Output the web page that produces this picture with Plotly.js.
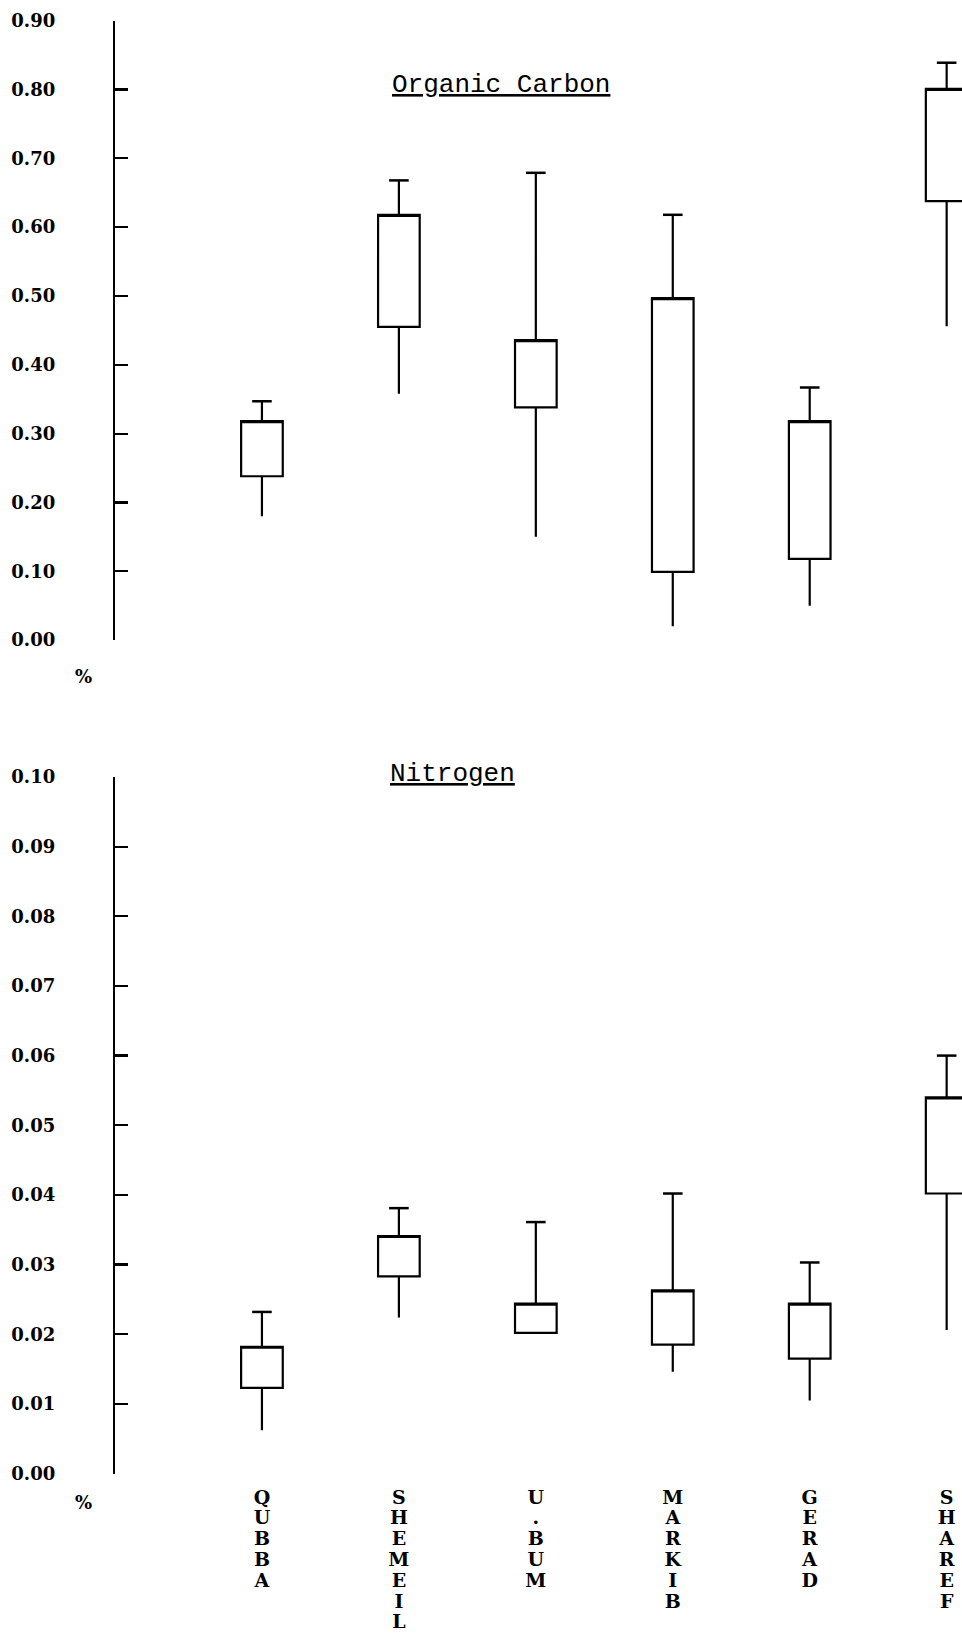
<!DOCTYPE html>
<html>
<head>
<meta charset="utf-8">
<script src="https://cdn.plot.ly/plotly-3.0.1.min.js"></script>
<style>html,body{margin:0;padding:0;background:#fff;}#chart{width:962px;height:1634px;}</style>
</head>
<body>
<div id="chart"></div>
<script>
// Sites (categories)
var sites = ['QUBBA', 'SHEMEIL', 'U.BUM', 'MARKIB', 'GERAD', 'SHAREF'];

// Organic Carbon (%)
var ocMin = [0.180, 0.358, 0.150, 0.020, 0.050, 0.456];
var ocQ1  = [0.238, 0.455, 0.338, 0.099, 0.118, 0.638];
var ocQ3  = [0.318, 0.618, 0.436, 0.497, 0.318, 0.801];
var ocMax = [0.347, 0.668, 0.679, 0.618, 0.367, 0.839];

// Nitrogen (%)
var nMin = [0.0062, 0.0224, 0.0202, 0.0146, 0.0105, 0.0206];
var nQ1  = [0.0123, 0.0283, 0.0202, 0.0185, 0.0165, 0.0402];
var nQ3  = [0.0182, 0.0341, 0.0244, 0.0263, 0.0244, 0.0540];
var nMax = [0.0232, 0.0381, 0.0361, 0.0402, 0.0303, 0.0600];

var ocTicks = [0, 0.1, 0.2, 0.3, 0.4, 0.5, 0.6, 0.7, 0.8, 0.9];
var nTicks = [0, 0.01, 0.02, 0.03, 0.04, 0.05, 0.06, 0.07, 0.08, 0.09, 0.10];

// vertical stacked letters for the site labels
var siteLabels = sites.map(function (s) {
  return s.split('').map(function (c) {
    return '<span style="font-size:19px">' + c + '</span>';
  }).join('<br>');
});

function boxTrace(q1, q3, mn, mx, xa, ya) {
  return {
    type: 'box', x: sites, q1: q1, q3: q3, median: q3,
    lowerfence: mn, upperfence: mx,
    xaxis: xa, yaxis: ya,
    width: 0.304, whiskerwidth: 0,
    fillcolor: '#ffffff',
    line: {color: '#000000', width: 2.2},
    boxpoints: false, hoverinfo: 'skip', showlegend: false
  };
}
function capTrace(mx, xa, ya) {
  return {
    type: 'scatter', mode: 'markers', x: sites, y: mx,
    xaxis: xa, yaxis: ya,
    marker: {symbol: 'line-ew', size: 14, color: '#000000', line: {color: '#000000', width: 2.5}},
    cliponaxis: false, hoverinfo: 'skip', showlegend: false
  };
}

var data = [
  boxTrace(ocQ1, ocQ3, ocMin, ocMax, 'x', 'y'),
  capTrace(ocMax, 'x', 'y'),
  boxTrace(nQ1, nQ3, nMin, nMax, 'x2', 'y2'),
  capTrace(nMax, 'x2', 'y2')
];

var yTickFont = {family: 'DejaVu Serif', size: 18, color: '#000000', weight: 'bold'};
var xTickFont = {family: 'DejaVu Serif', size: 16, color: '#000000', weight: 'bold'};
var xRange = [-1.073, 5.112];

function yAxis(domain, range, ticks, anchor) {
  return {
    domain: domain, range: range, anchor: anchor,
    tickmode: 'array', tickvals: ticks, tickformat: '.2f',
    ticks: 'inside', ticklen: 13, tickwidth: 2.2, tickcolor: '#000000',
    showline: true, linecolor: '#000000', linewidth: 2.2,
    showgrid: false, zeroline: false,
    tickfont: yTickFont, ticklabelstandoff: 54
  };
}

// paper x helper (plot area starts at 115px, 847px wide)
function px(x) { return (x - 115) / 847; }
function py(y) { return 1 - y / 1634; }

var layout = {
  width: 962, height: 1634,
  margin: {l: 115, r: 0, t: 0, b: 0},
  paper_bgcolor: '#ffffff', plot_bgcolor: 'rgba(0,0,0,0)',
  showlegend: false,
  xaxis: {
    domain: [0, 1], range: xRange, anchor: 'y', type: 'category',
    categoryorder: 'array', categoryarray: sites,
    showline: false, showgrid: false, zeroline: false,
    showticklabels: false, ticks: ''
  },
  xaxis2: {
    domain: [0, 1], range: xRange, anchor: 'y2', type: 'category',
    categoryorder: 'array', categoryarray: sites,
    showline: false, showgrid: false, zeroline: false,
    tickmode: 'array', tickvals: sites, ticktext: siteLabels,
    ticks: '', tickfont: xTickFont, tickangle: 0, ticklabelstandoff: 13
  },
  yaxis: yAxis([0.6083, 0.9873], [0, 0.9], ocTicks, 'x'),
  yaxis2: yAxis([0.0982, 0.5245], [0, 0.1], nTicks, 'x2'),
  annotations: [
    {text: '<u>Organic Carbon</u>', xref: 'paper', yref: 'paper', x: px(501), y: py(85),
     xanchor: 'center', yanchor: 'middle', showarrow: false,
     font: {family: 'Liberation Mono', size: 26, color: '#000000'}},
    {text: '<u>Nitrogen</u>', xref: 'paper', yref: 'paper', x: px(452), y: py(774),
     xanchor: 'center', yanchor: 'middle', showarrow: false,
     font: {family: 'Liberation Mono', size: 26, color: '#000000'}},
    {text: '%', xref: 'paper', yref: 'paper', x: px(83), y: py(676),
     xanchor: 'center', yanchor: 'middle', showarrow: false,
     font: {family: 'DejaVu Serif', size: 18, color: '#000000', weight: 'bold'}},
    {text: '%', xref: 'paper', yref: 'paper', x: px(83), y: py(1502),
     xanchor: 'center', yanchor: 'middle', showarrow: false,
     font: {family: 'DejaVu Serif', size: 18, color: '#000000', weight: 'bold'}}
  ]
};

Plotly.newPlot('chart', data, layout, {staticPlot: true, displayModeBar: false});
</script>
</body>
</html>
